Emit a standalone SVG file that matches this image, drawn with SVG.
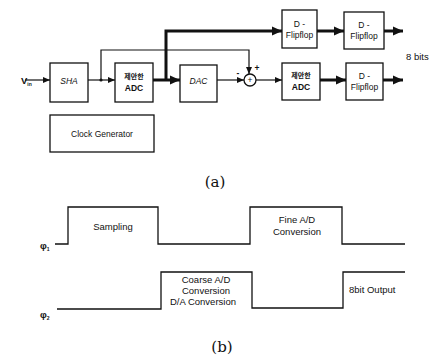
<svg xmlns="http://www.w3.org/2000/svg" width="431" height="359" viewBox="0 0 431 359">
<style>
.box{fill:#fff;stroke:#111;stroke-width:1.3}
.ln{fill:none;stroke:#111;stroke-width:1.2}
.bus{fill:none;stroke:#111;stroke-width:3}
.t{font-family:"Liberation Sans",Arial,sans-serif;font-size:8.5px;fill:#111;text-anchor:middle}
.k{font-family:"Liberation Sans","Noto Sans CJK KR",sans-serif;font-size:7px;fill:#111;text-anchor:middle;font-weight:bold}
.tl{font-family:"Liberation Sans",Arial,sans-serif;font-size:9.5px;fill:#111}
.cap{font-family:"DejaVu Serif","Liberation Serif",serif;font-size:15px;fill:#111;text-anchor:middle}
.wave{fill:none;stroke:#111;stroke-width:1.3}
</style>
<defs>
<marker id="ah" markerUnits="userSpaceOnUse" markerWidth="8" markerHeight="8" refX="7" refY="4" orient="auto"><path d="M0,1 L7,4 L0,7 Z" fill="#111"/></marker>
<marker id="ahb" markerUnits="userSpaceOnUse" markerWidth="12" markerHeight="12" refX="10" refY="5" orient="auto"><path d="M0,0.5 L10,5 L0,9.5 Z" fill="#111"/></marker>
</defs>
<g id="connectors">
<text class="tl" x="21" y="84" font-size="9" font-weight="bold">V<tspan font-size="5" dy="2">in</tspan></text>
<line class="ln" x1="25" y1="80" x2="50" y2="80" marker-end="url(#ah)"/>
<line class="ln" x1="88" y1="80" x2="115" y2="80" marker-end="url(#ah)"/>
<circle cx="101" cy="80" r="1.6" fill="#111"/>
<path class="ln" d="M101,80 V50 H249 V74" marker-end="url(#ah)"/>
<line class="bus" x1="153" y1="80" x2="180" y2="80" marker-end="url(#ahb)"/>
<path class="bus" d="M166,80 V31 H282" marker-end="url(#ahb)"/>
<line class="bus" x1="317" y1="31" x2="344" y2="31" marker-end="url(#ahb)"/>
<line class="bus" x1="384" y1="31" x2="403" y2="31" marker-end="url(#ahb)"/>
<line class="ln" x1="217" y1="80" x2="244" y2="80" marker-end="url(#ah)"/>
<line class="ln" x1="256" y1="80" x2="282" y2="80" marker-end="url(#ah)"/>
<line class="bus" x1="320" y1="80" x2="346" y2="80" marker-end="url(#ahb)"/>
<line class="bus" x1="383" y1="80" x2="403" y2="80" marker-end="url(#ahb)"/>
<text class="t" x="238" y="76" font-weight="bold">-</text>
<text class="t" x="257" y="71" font-size="7" font-weight="bold">+</text>
<text class="tl" x="406" y="60" font-size="7">8 bits</text>
</g>
<g id="sha"><rect class="box" x="50" y="63" width="38" height="39"/><text class="t" x="69" y="84" font-style="italic">SHA</text></g>
<g id="adc1"><rect class="box" x="115" y="63" width="38" height="39"/><text class="k" x="134" y="79">제안한</text><text class="t" x="134" y="91" font-weight="bold">ADC</text></g>
<g id="dac"><rect class="box" x="180" y="65" width="37" height="37"/><text class="t" x="198.5" y="84" font-style="italic">DAC</text></g>
<g id="sum"><circle cx="250" cy="80" r="6" fill="#fff" stroke="#111" stroke-width="1.3"/><text class="t" x="250" y="83" font-size="7">+</text></g>
<g id="adc2"><rect class="box" x="282" y="63" width="38" height="37"/><text class="k" x="301" y="78">제안한</text><text class="t" x="301" y="90" font-weight="bold">ADC</text></g>
<g id="ff1"><rect class="box" x="282" y="10" width="35" height="38"/><text class="t" x="299.5" y="27">D -</text><text class="t" x="299.5" y="38">Flipflop</text></g>
<g id="ff2"><rect class="box" x="344" y="12" width="40" height="37"/><text class="t" x="364" y="28">D -</text><text class="t" x="364" y="39">Flipflop</text></g>
<g id="ff3"><rect class="box" x="346" y="63" width="37" height="37"/><text class="t" x="364.5" y="79">D -</text><text class="t" x="364.5" y="90">Flipflop</text></g>
<g id="clock"><rect class="box" x="50" y="115" width="104" height="37"/><text class="t" x="102" y="137">Clock Generator</text></g>
<text class="cap" x="215" y="187">(a)</text>
<g id="timing">
<text class="tl" x="40" y="249" font-weight="bold">φ<tspan font-size="5" dy="2">1</tspan></text>
<path class="wave" d="M55,244 H68 V207 H158 V244 H250 V207 H342 V244 H405"/>
<text class="tl" x="113" y="230" text-anchor="middle">Sampling</text>
<text class="tl" x="297" y="223" text-anchor="middle">Fine A/D</text>
<text class="tl" x="297" y="235" text-anchor="middle">Conversion</text>
<text class="tl" x="40" y="318" font-weight="bold">φ<tspan font-size="5" dy="2">2</tspan></text>
<path class="wave" d="M57,309 H161 V272 H252 V308 H343 V272 H405"/>
<text class="tl" x="206" y="283" text-anchor="middle">Coarse A/D</text>
<text class="tl" x="206" y="294" text-anchor="middle">Conversion</text>
<text class="tl" x="203" y="305" text-anchor="middle">D/A Conversion</text>
<text class="tl" x="349" y="293">8bit Output</text>
</g>
<text class="cap" x="222" y="352">(b)</text>
</svg>
